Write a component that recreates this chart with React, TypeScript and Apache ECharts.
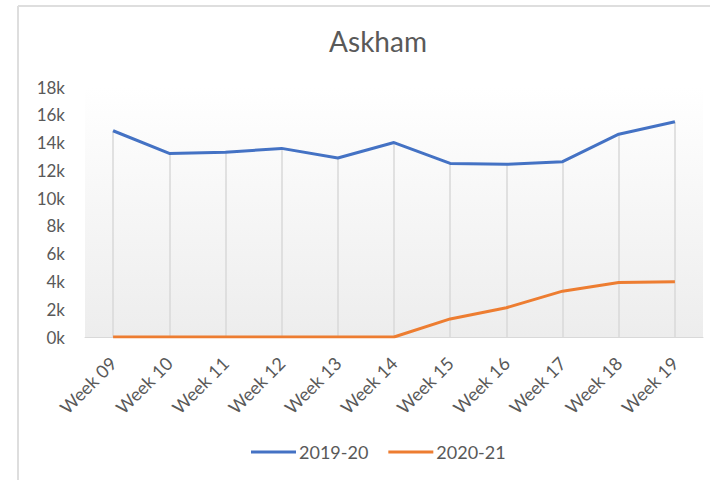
import React, { useEffect, useRef } from "react";
import * as echarts from "echarts";

const categories = ["Week 09", "Week 10", "Week 11", "Week 12", "Week 13", "Week 14", "Week 15", "Week 16", "Week 17", "Week 18", "Week 19"];
const series2019 = [14850, 13220, 13300, 13580, 12890, 14000, 12500, 12430, 12620, 14600, 15500];
const series2020 = [0, 0, 0, 0, 0, 0, 1300, 2110, 3300, 3920, 3980];
const seriesNames = ["2019-20", "2020-21"];
const yTicks = { min: 0, max: 18000, interval: 2000 };

const FONT = "Lato, 'Open Sans', sans-serif";
const TEXT = "#595959";

export default function App() {
  const ref = useRef<HTMLDivElement>(null);
  useEffect(() => {
    if (!ref.current) return;
    const chart = echarts.init(ref.current, undefined, { renderer: "svg" });
    const dropLines = categories.map((c, i) => {
      const top = Math.max(series2019[i], series2020[i]);
      return [{ coord: [c, 0] }, { coord: [c, top] }];
    });
    chart.setOption({
      animation: false,
      backgroundColor: "#ffffff",
      textStyle: { fontFamily: FONT },
      title: {
        text: "Askham",
        left: 373,
        top: 22,
        textAlign: "center",
        textStyle: { fontFamily: FONT, fontSize: 28, fontWeight: "normal", color: TEXT },
      },
      graphic: [
        { type: "line", shape: { x1: 18, y1: 6, x2: 710, y2: 6 }, style: { stroke: "#dedede", lineWidth: 2 } },
        { type: "line", shape: { x1: 18, y1: 6, x2: 18, y2: 480 }, style: { stroke: "#dedede", lineWidth: 2 } },
      ],
      grid: {
        left: 85,
        right: 7,
        top: 87,
        bottom: 143,
        show: true,
        borderWidth: 0,
        backgroundColor: new echarts.graphic.LinearGradient(0, 0, 0, 1, [
          { offset: 0, color: "#ffffff" },
          { offset: 1, color: "#ededed" },
        ]),
      },
      legend: {
        top: 438,
        left: 246,
        data: seriesNames,
        icon: "rect",
        itemWidth: 45,
        itemHeight: 3,
        itemGap: 20,
        textStyle: { fontFamily: FONT, fontSize: 18, color: TEXT, padding: [0, 0, 0, -2] },
      },
      xAxis: {
        type: "category",
        data: categories,
        boundaryGap: true,
        axisLine: { show: true, lineStyle: { color: "#d9d9d9", width: 1 } },
        axisTick: { show: false },
        splitLine: { show: false },
        axisLabel: { rotate: 45, margin: 23, fontFamily: FONT, fontSize: 18, color: TEXT, interval: 0 },
      },
      yAxis: {
        type: "value",
        min: yTicks.min,
        max: yTicks.max,
        interval: yTicks.interval,
        axisLine: { show: false },
        axisTick: { show: false },
        splitLine: { show: false },
        axisLabel: {
          margin: 20,
          fontFamily: FONT,
          fontSize: 17,
          color: TEXT,
          formatter: (v: number) => `${v / 1000}k`,
        },
      },
      series: [
        {
          name: seriesNames[0],
          type: "line",
          data: series2019,
          symbol: "none",
          lineStyle: { color: "#4472C4", width: 3 },
          itemStyle: { color: "#4472C4" },
          z: 3,
          markLine: {
            silent: true,
            symbol: "none",
            label: { show: false },
            lineStyle: { color: "#d9d9d9", width: 1.5, type: "solid" },
            data: dropLines,
            z: 1,
          },
        },
        {
          name: seriesNames[1],
          type: "line",
          data: series2020,
          symbol: "none",
          lineStyle: { color: "#ED7D31", width: 3 },
          itemStyle: { color: "#ED7D31" },
          z: 4,
        },
      ],
    });
    return () => chart.dispose();
  }, []);
  return <div ref={ref} style={{ width: 710, height: 480, position: "absolute", left: 0, top: 0 }} />;
}
